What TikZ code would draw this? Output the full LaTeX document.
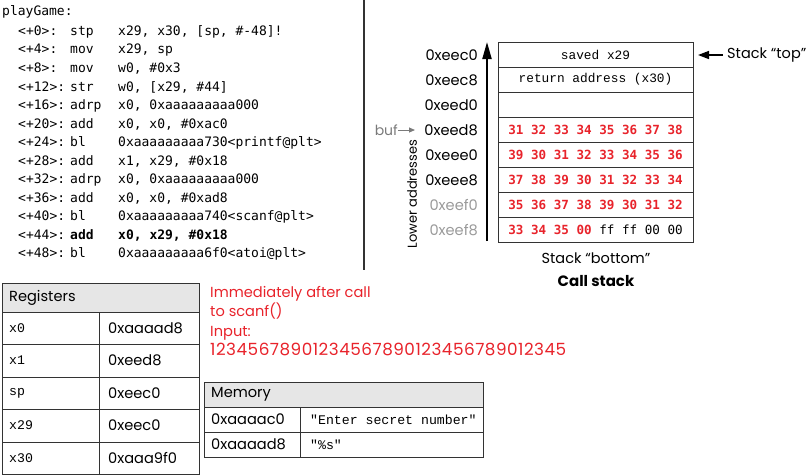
\documentclass[tikz,border=0pt]{standalone}
\usepackage{fontspec}
\setmainfont{Poppins}
\newfontfamily\codefont{DejaVu Sans Mono}
\newfontfamily\slabfont{Liberation Mono}
\usetikzlibrary{arrows.meta}
\definecolor{redtxt}{HTML}{E8232B}
\definecolor{greytxt}{HTML}{9A9A9A}
\definecolor{buftxt}{HTML}{7A7A7A}
\definecolor{hdrfill}{HTML}{E6E6E6}
\definecolor{rulec}{HTML}{333333}
\tikzset{
  codeline/.style={anchor=west, inner sep=0pt, font=\codefont\fontsize{13}{14}\selectfont},
  cell/.style={draw=rulec, line width=0.9pt, minimum width=195pt, minimum height=25pt, inner sep=0pt, outer sep=0pt},
  addr/.style={anchor=east, inner sep=0pt, font=\fontsize{14.6}{16}\selectfont},
  slab/.style={font=\slabfont\fontsize{12.8}{14}\selectfont},
  rednum/.style={text=redtxt, font=\codefont\bfseries\fontsize{12.6}{14}\selectfont},
  tbl/.style={draw=rulec, line width=0.9pt},
  tlabel/.style={anchor=west, inner sep=0pt, font=\fontsize{14.6}{16}\selectfont},
  tmono/.style={anchor=west, inner sep=0pt, font=\slabfont\fontsize{13.2}{14}\selectfont},
  redline/.style={anchor=base west, inner sep=0pt, text=redtxt, font=\fontsize{14.6}{17}\selectfont},
}
\newcommand{\cl}[3]{\makebox[52pt][l]{#1}\makebox[48pt][l]{#2}#3}
\begin{document}
\begin{tikzpicture}[x=1pt,y=-1pt]
\useasboundingbox (0,0) rectangle (808,475);
% code listing
\node[codeline] (c0) at (2,12) {playGame:};
\node[codeline] (c1) at (18,32) {\cl{<+0>:}{stp}{x29, x30, [sp, \#-48]!}};
\node[codeline] (c2) at (18,50.5) {\cl{<+4>:}{mov}{x29, sp}};
\node[codeline] (c3) at (18,69) {\cl{<+8>:}{mov}{w0, \#0x3}};
\node[codeline] (c4) at (18,87.5) {\cl{<+12>:}{str}{w0, [x29, \#44]}};
\node[codeline] (c5) at (18,106) {\cl{<+16>:}{adrp}{x0, 0xaaaaaaaaa000}};
\node[codeline] (c6) at (18,124.5) {\cl{<+20>:}{add}{x0, x0, \#0xac0}};
\node[codeline] (c7) at (18,143) {\cl{<+24>:}{bl}{0xaaaaaaaaa730<printf@plt>}};
\node[codeline] (c8) at (18,161.5) {\cl{<+28>:}{add}{x1, x29, \#0x18}};
\node[codeline] (c9) at (18,180) {\cl{<+32>:}{adrp}{x0, 0xaaaaaaaaa000}};
\node[codeline] (c10) at (18,198.5) {\cl{<+36>:}{add}{x0, x0, \#0xad8}};
\node[codeline] (c11) at (18,217) {\cl{<+40>:}{bl}{0xaaaaaaaaa740<scanf@plt>}};
\node[codeline] (c12) at (18,235.5) {\cl{<+44>:}{\bfseries add}{\bfseries x0, x29, \#0x18}};
\node[codeline] (c13) at (18,254) {\cl{<+48>:}{bl}{0xaaaaaaaaa6f0<atoi@plt>}};
% separator
\coordinate (sepT) at (364,0);
\coordinate (sepB) at (364,270);
\draw[line width=1.2pt, rulec] (sepT) -- (sepB);
% stack cells
\node[cell, slab] (r1) at (595.5,54.5) {saved x29};
\node[cell, slab] (r2) at (595.5,79.5) {return address (x30)};
\node[cell] (r3) at (595.5,104.5) {};
\node[cell, rednum] (r4) at (595.5,129.5) {31 32 33 34 35 36 37 38};
\node[cell, rednum] (r5) at (595.5,154.5) {39 30 31 32 33 34 35 36};
\node[cell, rednum] (r6) at (595.5,179.5) {37 38 39 30 31 32 33 34};
\node[cell, rednum] (r7) at (595.5,204.5) {35 36 37 38 39 30 31 32};
\node[cell, rednum] (r8) at (595.5,229.5) {33 34 35 00 {\color{black}\mdseries ff ff 00 00}};
% addresses
\node[addr] (a1) at (478,55) {0xeec0};
\node[addr] (a2) at (478,80) {0xeec8};
\node[addr] (a3) at (478,105) {0xeed0};
\node[addr] (a4) at (478,130) {0xeed8};
\node[addr] (a5) at (478,155) {0xeee0};
\node[addr] (a6) at (478,180) {0xeee8};
\node[addr, text=greytxt] (a7) at (478,205) {0xeef0};
\node[addr, text=greytxt] (a8) at (478,230) {0xeef8};
% address arrow
\coordinate (arB) at (487,241);
\coordinate (arT) at (487,42);
\draw[line width=2pt, -{Triangle[length=17pt,width=9pt]}] (arB) -- (arT);
\node[rotate=90, inner sep=0pt, font=\fontsize{13}{15}\selectfont] (lower) at (412,194) {Lower addresses};
% buf pointer
\node[anchor=east, inner sep=0pt, text=buftxt, font=\fontsize{14}{15}\selectfont] (buf) at (398,130) {buf};
\coordinate (bufE) at (415,130);
\draw[buftxt, line width=1pt, -{Triangle[length=6pt,width=5pt]}] (buf.east) -- (bufE);
% stack top
\coordinate (topS) at (723,55);
\coordinate (topE) at (698,55);
\draw[line width=1.5pt, -{Triangle[length=11pt,width=8pt]}] (topS) -- (topE);
\node[anchor=west, inner sep=0pt, font=\fontsize{14.5}{16}\selectfont] (stop) at (727,55) {Stack “top”};
\node[inner sep=0pt, font=\fontsize{14.5}{16}\selectfont] (sbot) at (596,258) {Stack “bottom”};
\node[inner sep=0pt, font=\bfseries\fontsize{15}{16}\selectfont] (cstack) at (596,281) {Call stack};
% red text
\node[redline] (t1) at (210,297) {Immediately after call};
\node[redline] (t2) at (210,316.5) {to scanf()};
\node[redline] (t3) at (210,336) {Input:};
\node[redline, font=\addfontfeature{LetterSpace=3}\fontsize{16.8}{17}\selectfont] (t4) at (210,355.5) {12345678901234567890123456789012345};
% registers table
\fill[hdrfill] (2,283) rectangle (199,312);
\draw[tbl] (2,283) rectangle (199,474);
\foreach \yy in {312,344,377,409,442} \draw[tbl] (2,\yy) -- (199,\yy);
\draw[tbl] (99,312) -- (99,474);
\node[tlabel] (rh) at (9,298) {Registers};
\node[tmono] (k1) at (9,328) {x0};   \node[tlabel] (v1) at (108,328) {0xaaaad8};
\node[tmono] (k2) at (9,360.5) {x1}; \node[tlabel] (v2) at (108,360.5) {0xeed8};
\node[tmono] (k3) at (9,393) {sp};   \node[tlabel] (v3) at (108,393) {0xeec0};
\node[tmono] (k4) at (9,425.5) {x29};\node[tlabel] (v4) at (108,425.5) {0xeec0};
\node[tmono] (k5) at (9,458) {x30};  \node[tlabel] (v5) at (108,458) {0xaaa9f0};
% memory table
\fill[hdrfill] (204,382) rectangle (483,407);
\draw[tbl] (204,382) rectangle (483,457);
\draw[tbl] (204,407) -- (483,407);
\draw[tbl] (204,432) -- (483,432);
\draw[tbl] (300,407) -- (300,457);
\node[tlabel] (mh) at (211,394.5) {Memory};
\node[tlabel] (m1) at (211,419.5) {0xaaaac0};
\node[tmono] (n1) at (310,419.5) {"Enter secret number"};
\node[tlabel] (m2) at (211,444.5) {0xaaaad8};
\node[tmono] (n2) at (310,444.5) {"\%s"};
\end{tikzpicture}
\end{document}
